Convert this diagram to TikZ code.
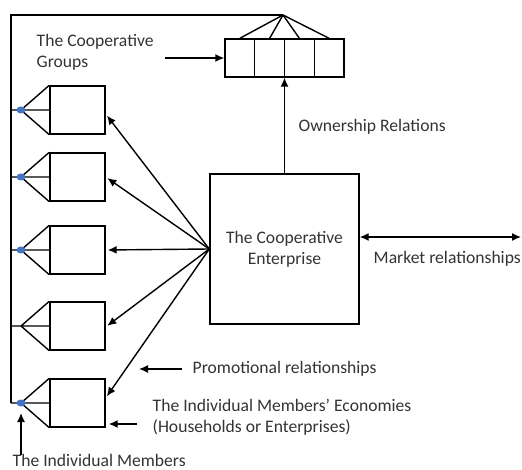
\documentclass[tikz,border=0pt]{standalone}
\usepackage{fontspec}
\setmainfont{Carlito}
\usetikzlibrary{arrows.meta,positioning}
\definecolor{memberblue}{RGB}{68,114,196}
\tikzset{
  unit/.style={draw, minimum width=55pt, minimum height=48pt, inner sep=0pt},
  cell/.style={draw, minimum width=29.75pt, minimum height=38pt, inner sep=0pt},
  lbl/.style={text=black!80, font=\fontsize{17.6}{21}\selectfont, inner sep=0pt, align=left},
}
\begin{document}
\begin{tikzpicture}[x=1pt, y=-1pt, line width=1.4pt, >={Latex[length=9pt,width=8pt]}]
  \useasboundingbox (0,0) rectangle (522,470);
  % the cooperative groups
  \foreach \i in {1,...,4}
    \node[cell] (g\i) at ({225+29.75*(\i-0.5)},58) {};
  \coordinate (top) at (283,15);
  \coordinate (fc) at (11,15);
  \foreach \i in {1,...,4}
    \draw (top) -- (g\i.north);
  % the cooperative enterprise
  \node[draw, minimum width=149pt, minimum height=150pt, lbl, align=center] (ent) at (284.5,249)
    {The Cooperative\\Enterprise};
  % the members' economies
  \foreach \n/\yc in {1/110,2/177,3/250,4/326,5/403} {
    \node[unit] (m\n) at (77.5,\yc) {};
    \coordinate (a\n) at (21,\yc);
    \draw (a\n) -- (m\n.north west) (a\n) -- (m\n.south west) (a\n -| fc) -- (m\n.west);
  }
  \foreach \n in {1,2,3,5}
    \fill[memberblue] (a\n) ellipse (4.5 and 3.5);
  \draw (a5 -| fc) -- (fc) -- (top);
  % relations
  \draw[->] (ent.north) -- (ent.north |- g2.south);
  \foreach \n/\dy in {1/4,2/0,3/0,4/1,5/-5}
    \draw[->, shorten >=2pt] (ent.west) -- ([shift={(0,\dy)}]m\n.east);
  \coordinate (mktend) at (521,237);
  \draw[<->] (ent.east |- mktend) -- (mktend);
  % labels
  \node[lbl, anchor=west] (grplbl) at (36,52) {The Cooperative\\Groups};
  \coordinate (gtail) at (165,58);
  \draw[->] (gtail) -- (g1.west);
  \node[lbl, anchor=west] (own) at (298,127) {Ownership Relations};
  \node[lbl, anchor=west] (mkt) at (373,259) {Market relationships};
  \node[lbl, anchor=west] (promo) at (192,369) {Promotional relationships};
  \coordinate (ptip) at (139,369);
  \draw[->] ([xshift=-10pt]promo.west) -- (ptip);
  \node[lbl, anchor=west] (econ) at (152,417.5) {The Individual Members' Economies\\(Households or Enterprises)};
  \coordinate (etail) at (137,424);
  \draw[->, shorten >=3pt] (etail) -- (etail -| m5.east);
  \node[lbl, anchor=west] (mbrs) at (12,460) {The Individual Members};
  \draw[->, shorten >=10pt] ([yshift=-2pt]mbrs.north -| a5) -- (a5);
\end{tikzpicture}
\end{document}
